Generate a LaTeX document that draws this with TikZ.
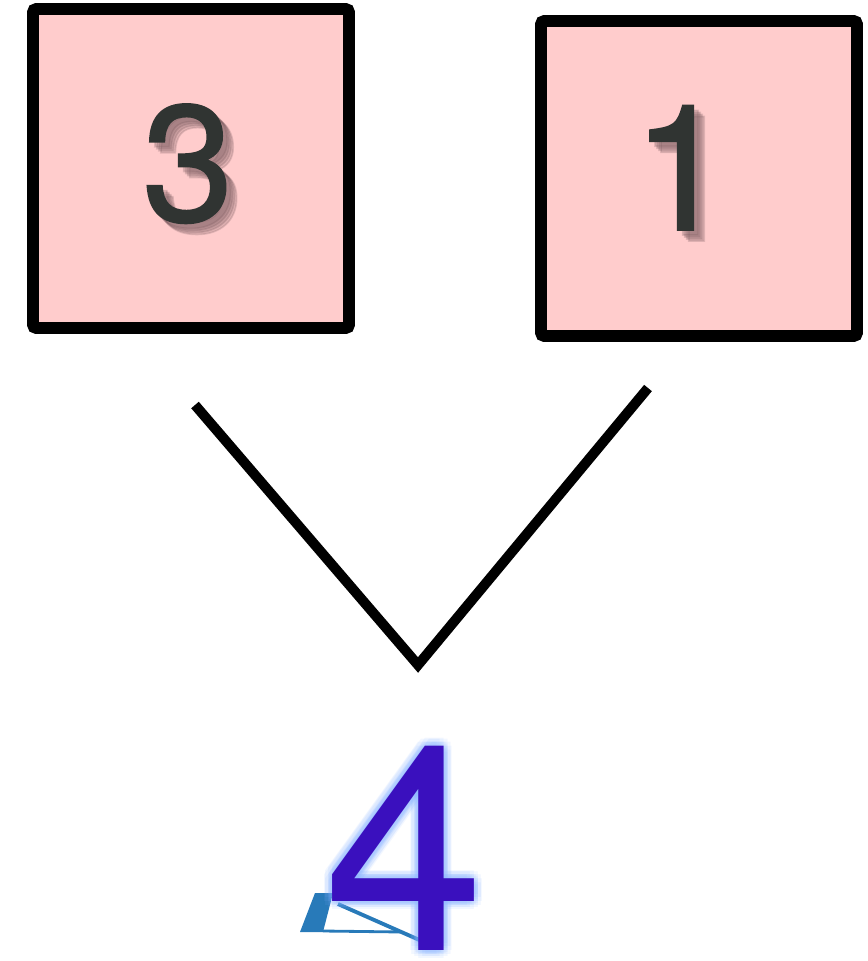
\documentclass[tikz,border=0pt]{standalone}
\usepackage{fontspec}
\setmainfont{TeX Gyre Heros}
\newfontfamily\digitfont[FakeBold=1]{TeX Gyre Heros}
\usepackage{tikz}
\usetikzlibrary{calc}
\definecolor{boxpink}{RGB}{255, 204, 204}
\definecolor{digitgray}{RGB}{48, 52, 50}
\definecolor{shadowgray}{RGB}{110, 80, 85}
\definecolor{fourblue}{RGB}{58, 16, 190}
\definecolor{glowblue}{RGB}{130, 175, 255}
\definecolor{tealblue}{RGB}{40, 122, 185}

\begin{document}
\begin{tikzpicture}[x=0.2mm, y=-0.2mm,
    numbox/.style={draw=black, fill=boxpink, line width=6.8pt, rounded corners=2pt,
      inner sep=0pt, minimum width=63.2mm},
    digit/.style={anchor=base, inner sep=0pt, text=digitgray},
    vline/.style={black, line width=5.7pt}]
      \useasboundingbox (0,0) rectangle (867,961);
      % boxes
      \node[numbox, minimum height=63.8mm] (left) at (191,168.5) {};
      \node[numbox, minimum height=63mm] (right) at (699,178.5) {};
      % shadows of the digits
      \foreach \d in {5,7,9,11} {
        \node[digit, text=shadowgray, opacity=0.2, font=\digitfont\fontsize{94}{110}\selectfont]
          at (188+\d,221+\d) {3};
        \node[digit, text=shadowgray, opacity=0.2, font=\digitfont\fontsize{100}{118}\selectfont]
          at (681+\d,230+\d) {1};
      }
      % digits
      \node[digit, font=\digitfont\fontsize{94}{110}\selectfont] (three) at (188,221) {3};
      \node[digit, font=\digitfont\fontsize{100}{118}\selectfont] (one) at (681,230) {1};
      % the V
      \coordinate (vleft) at (195,405);
      \coordinate (vbottom) at (418,665);
      \coordinate (vright) at (648,388);
      \draw[vline] (vleft) -- (vbottom) -- (vright);
      % reflection under the 4
      \fill[tealblue] (300,932) -- (315,893) -- (333,893) -- (323,932) -- cycle;
      \draw[tealblue, line width=2.2pt] (338,904) -- (424,942);
      \draw[tealblue, line width=1.6pt] (323,931) -- (402,932);
      % glow of the 4
      \foreach \r in {4,8} {
        \foreach \a in {0,30,...,330} {
          \node[anchor=base, inner sep=0pt, text=glowblue, opacity=0.1,
            font=\fontsize{164}{190}\selectfont] at ($(405,950)+(\a:\r)$) {4};
        }
      }
      % the 4
      \node[anchor=base, inner sep=0pt, text=fourblue, font=\fontsize{164}{190}\selectfont]
        (four) at (405,950) {4};
    \end{tikzpicture}
\end{document}
